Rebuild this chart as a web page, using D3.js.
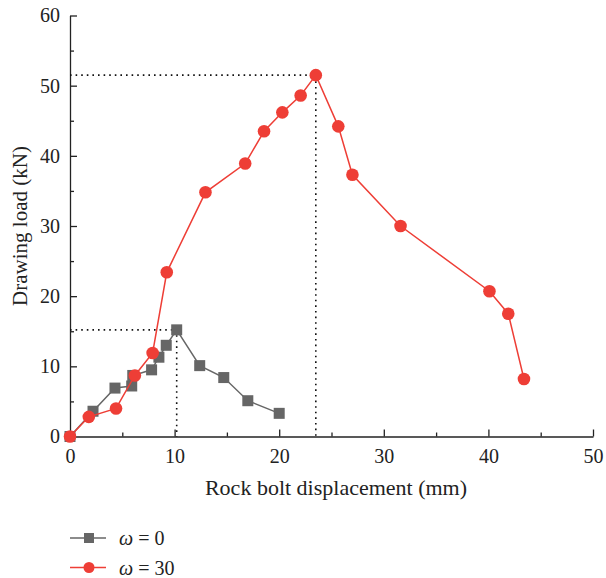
<!DOCTYPE html>
<meta charset="utf-8">
<style>
body { margin: 0; background: #fff; }
text { font-family: "Liberation Serif", "DejaVu Serif", serif; fill: #222; }
</style>
<body>
<script src="https://d3js.org/d3.v7.min.js"></script>
<script>

// omega = 0 (grey squares)
var disp0 = [0, 2.2, 4.3, 5.9, 6.0, 7.8, 8.5, 9.2, 10.2, 12.4, 14.7, 17.0, 20.0];
var load0 = [0, 3.6, 6.9, 7.2, 8.7, 9.5, 11.3, 13.0, 15.2, 10.1, 8.4, 5.1, 3.3];

// omega = 30 (red circles)
var disp30 = [0, 1.8, 4.4, 6.2, 7.9, 9.25, 12.95, 16.75, 18.55, 20.3, 22.05, 23.5, 25.65, 27.0, 31.6, 40.1, 41.9, 43.4];
var load30 = [0, 2.8, 4.0, 8.7, 11.9, 23.4, 34.8, 38.9, 43.5, 46.2, 48.6, 51.5, 44.2, 37.3, 30.0, 20.7, 17.5, 8.2];

var xTicks = [0, 10, 20, 30, 40, 50];
var yTicks = [0, 10, 20, 30, 40, 50, 60];
var seriesNames = ["\u03c9 = 0", "\u03c9 = 30"];

var width = 606, height = 578;
var grey = "#666666", red = "#ee3e36";

var svg = d3.select("body").append("svg")
    .attr("width", width)
    .attr("height", height);

var x = d3.scaleLinear().domain([0, 50]).range([70, 593]);
var y = d3.scaleLinear().domain([0, 60]).range([436.5, 15.5]);

// axes, ticks pointing inward
var xAxis = svg.append("g")
    .attr("transform", "translate(0," + y(0) + ")")
    .call(d3.axisBottom(x).tickValues(xTicks).tickSize(-7).tickPadding(12).tickSizeOuter(0));
xAxis.selectAll(".tick").filter(function (d) { return d === 0; }).select("line").remove();
svg.append("g")
    .attr("transform", "translate(0," + y(0) + ")")
    .call(d3.axisBottom(x).tickValues(d3.range(5, 50, 10)).tickSize(-4).tickFormat("").tickSizeOuter(0))
    .select(".domain").remove();

var yAxis = svg.append("g")
    .attr("transform", "translate(" + x(0) + ",0)")
    .call(d3.axisLeft(y).tickValues(yTicks).tickSize(-7).tickPadding(10).tickSizeOuter(0));
yAxis.selectAll(".tick").filter(function (d) { return d === 0; }).select("line").remove();
svg.append("g")
    .attr("transform", "translate(" + x(0) + ",0)")
    .call(d3.axisLeft(y).tickValues(d3.range(5, 60, 10)).tickSize(-4).tickFormat("").tickSizeOuter(0))
    .select(".domain").remove();

svg.selectAll(".domain, .tick line").attr("stroke", "#222").attr("stroke-width", 1.3);
svg.selectAll(".tick text")
    .style("font-family", "'Liberation Serif', serif")
    .style("font-size", "20px")
    .attr("fill", "#222");

// axis titles
svg.append("text")
    .attr("x", 336)
    .attr("y", 495)
    .attr("text-anchor", "middle")
    .style("font-size", "22px")
    .text("Rock bolt displacement (mm)");

svg.append("text")
    .attr("transform", "translate(27," + 226 + ") rotate(-90)")
    .attr("text-anchor", "middle")
    .style("font-size", "21px")
    .text("Drawing load (kN)");

// peak guide lines (dotted)
function peak(xs, ys) {
    var i = d3.maxIndex(ys);
    return [xs[i], ys[i]];
}
[peak(disp0, load0), peak(disp30, load30)].forEach(function (p) {
    svg.append("path")
        .attr("d", "M" + x(0) + "," + y(p[1]) + "H" + x(p[0]) + "V" + y(0))
        .attr("fill", "none")
        .attr("stroke", "#111")
        .attr("stroke-width", 1.6)
        .attr("stroke-dasharray", "1.6,4");
});

var line = d3.line()
    .x(function (d) { return x(d[0]); })
    .y(function (d) { return y(d[1]); });

var data0 = disp0.map(function (d, i) { return [d, load0[i]]; });
var data30 = disp30.map(function (d, i) { return [d, load30[i]]; });

svg.append("path")
    .attr("d", line(data0))
    .attr("fill", "none")
    .attr("stroke", grey)
    .attr("stroke-width", 1.5);
svg.selectAll(".sq")
    .data(data0)
    .enter().append("rect")
    .attr("class", "sq")
    .attr("x", function (d) { return x(d[0]) - 5.5; })
    .attr("y", function (d) { return y(d[1]) - 5.5; })
    .attr("width", 11)
    .attr("height", 11)
    .attr("fill", grey);

svg.append("path")
    .attr("d", line(data30))
    .attr("fill", "none")
    .attr("stroke", red)
    .attr("stroke-width", 1.5);
svg.selectAll(".dot")
    .data(data30)
    .enter().append("circle")
    .attr("class", "dot")
    .attr("cx", function (d) { return x(d[0]); })
    .attr("cy", function (d) { return y(d[1]); })
    .attr("r", 6.3)
    .attr("fill", red);

// legend
var legend = svg.append("g");
seriesNames.forEach(function (name, i) {
    var ly = 538 + i * 29.5;
    var c = i === 0 ? grey : red;
    legend.append("line")
        .attr("x1", 70).attr("x2", 106)
        .attr("y1", ly).attr("y2", ly)
        .attr("stroke", c).attr("stroke-width", 1.5);
    if (i === 0) {
        legend.append("rect")
            .attr("x", 84).attr("y", ly - 5)
            .attr("width", 10).attr("height", 10)
            .attr("fill", c);
    } else {
        legend.append("circle")
            .attr("cx", 89).attr("cy", ly).attr("r", 5.5)
            .attr("fill", c);
    }
    var t = legend.append("text")
        .attr("x", 119)
        .attr("y", ly + 7)
        .style("font-size", "20px");
    t.append("tspan").style("font-style", "italic").text("\u03c9");
    t.append("tspan").text(name.slice(1));
});

</script>
</body>
